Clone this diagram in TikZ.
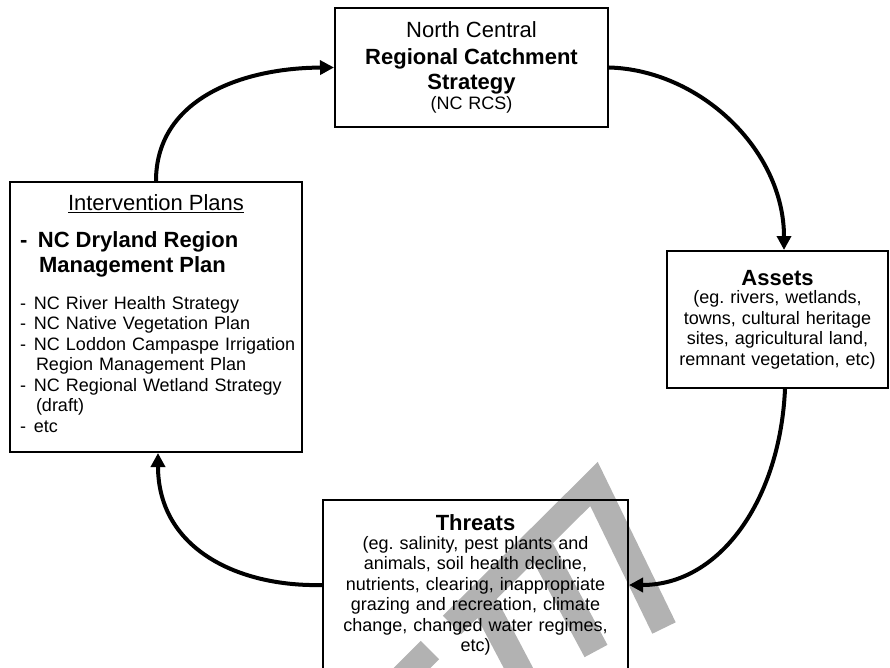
\documentclass[tikz,border=0pt]{standalone}
\usepackage{fontspec}
\setmainfont{Liberation Sans}
\usetikzlibrary{arrows.meta}
\frenchspacing

\newcommand{\bodyfont}{\fontsize{18}{20.5}\selectfont}
\newcommand{\headfont}{\fontsize{22}{26}\selectfont}
\newcommand{\planitem}[1]{\mbox{\makebox[14pt][l]{-}#1}}

\begin{document}
\begin{tikzpicture}[x=1pt,y=-1pt,
  box/.style={draw,line width=2pt,inner sep=0pt,align=center,font=\bodyfont},
  flow/.style={line width=4pt,-{Triangle[length=14pt,width=14pt]}},
  wmark/.style={line width=26pt,black!30,line join=miter}]
  \useasboundingbox (0,0) rectangle (890,668);

  % watermark
  \draw[wmark] (452,625) -- (594,484) -- (664,628);
  \draw[wmark] (537,541) -- (596,651);
  \draw[wmark] (481,597) -- (530,690);
  \draw[wmark] (430,650) -- (390,690);

  % boxes
  \node[box,text width=273pt,minimum height=119pt] (rcs) at (471.5,67.5)
    {\headfont North Central\\
     \fontsize{22}{26.6}\selectfont\bfseries Regional Catchment\\
     \fontsize{22}{25}\selectfont Strategy\\
     \fontsize{18}{23}\selectfont\mdseries (NC RCS)};
  \node[box,text width=221pt,minimum height=137pt] (assets) at (777.5,319.5)
    {\headfont\bfseries Assets\\[-2pt]
     \bodyfont\mdseries (eg. rivers, wetlands,\\
     towns, cultural heritage\\
     sites, agricultural land,\\
     remnant vegetation, etc)};
  \node[box,text width=305pt,minimum height=170pt] (threats) at (475.5,585)
    {\headfont\bfseries Threats\\[-2pt]
     \bodyfont\mdseries (eg. salinity, pest plants and\\
     animals, soil health decline,\\
     nutrients, clearing, inappropriate\\
     grazing and recreation, climate\\
     change, changed water regimes,\\
     etc)};
  \node[box,align=left,inner xsep=10pt,text width=272pt,minimum height=270pt] (plans) at (156,317)
    {\makebox[272pt]{\headfont\underline{Intervention Plans}}\\[12pt]
     \fontsize{22}{25}\selectfont\bfseries\mbox{\makebox[18pt][l]{-}NC Dryland Region}\\
     \hspace*{19pt}Management Plan\\[16pt]
     \bodyfont\mdseries\planitem{NC River Health Strategy}\\
     \planitem{NC Native Vegetation Plan}\\
     \planitem{NC Loddon Campaspe Irrigation}\\
     \hspace*{16pt}Region Management Plan\\
     \planitem{NC Regional Wetland Strategy}\\
     \hspace*{16pt}(draft)\\
     \planitem{etc}\\[-14pt]
     \mbox{}};

  % cycle
  \draw[flow] (plans.north) .. controls (156,100) and (240,68) .. (rcs.west);
  \draw[flow] (rcs.east) .. controls (700,70) and (784,150) .. ([xshift=6.5pt]assets.north);
  \draw[flow] ([xshift=7.5pt]assets.south) .. controls (780,500) and (720,585) .. (threats.east);
  \draw[flow] (threats.west) .. controls (240,587) and (158,550) .. ([xshift=2pt]plans.south);
\end{tikzpicture}
\end{document}
